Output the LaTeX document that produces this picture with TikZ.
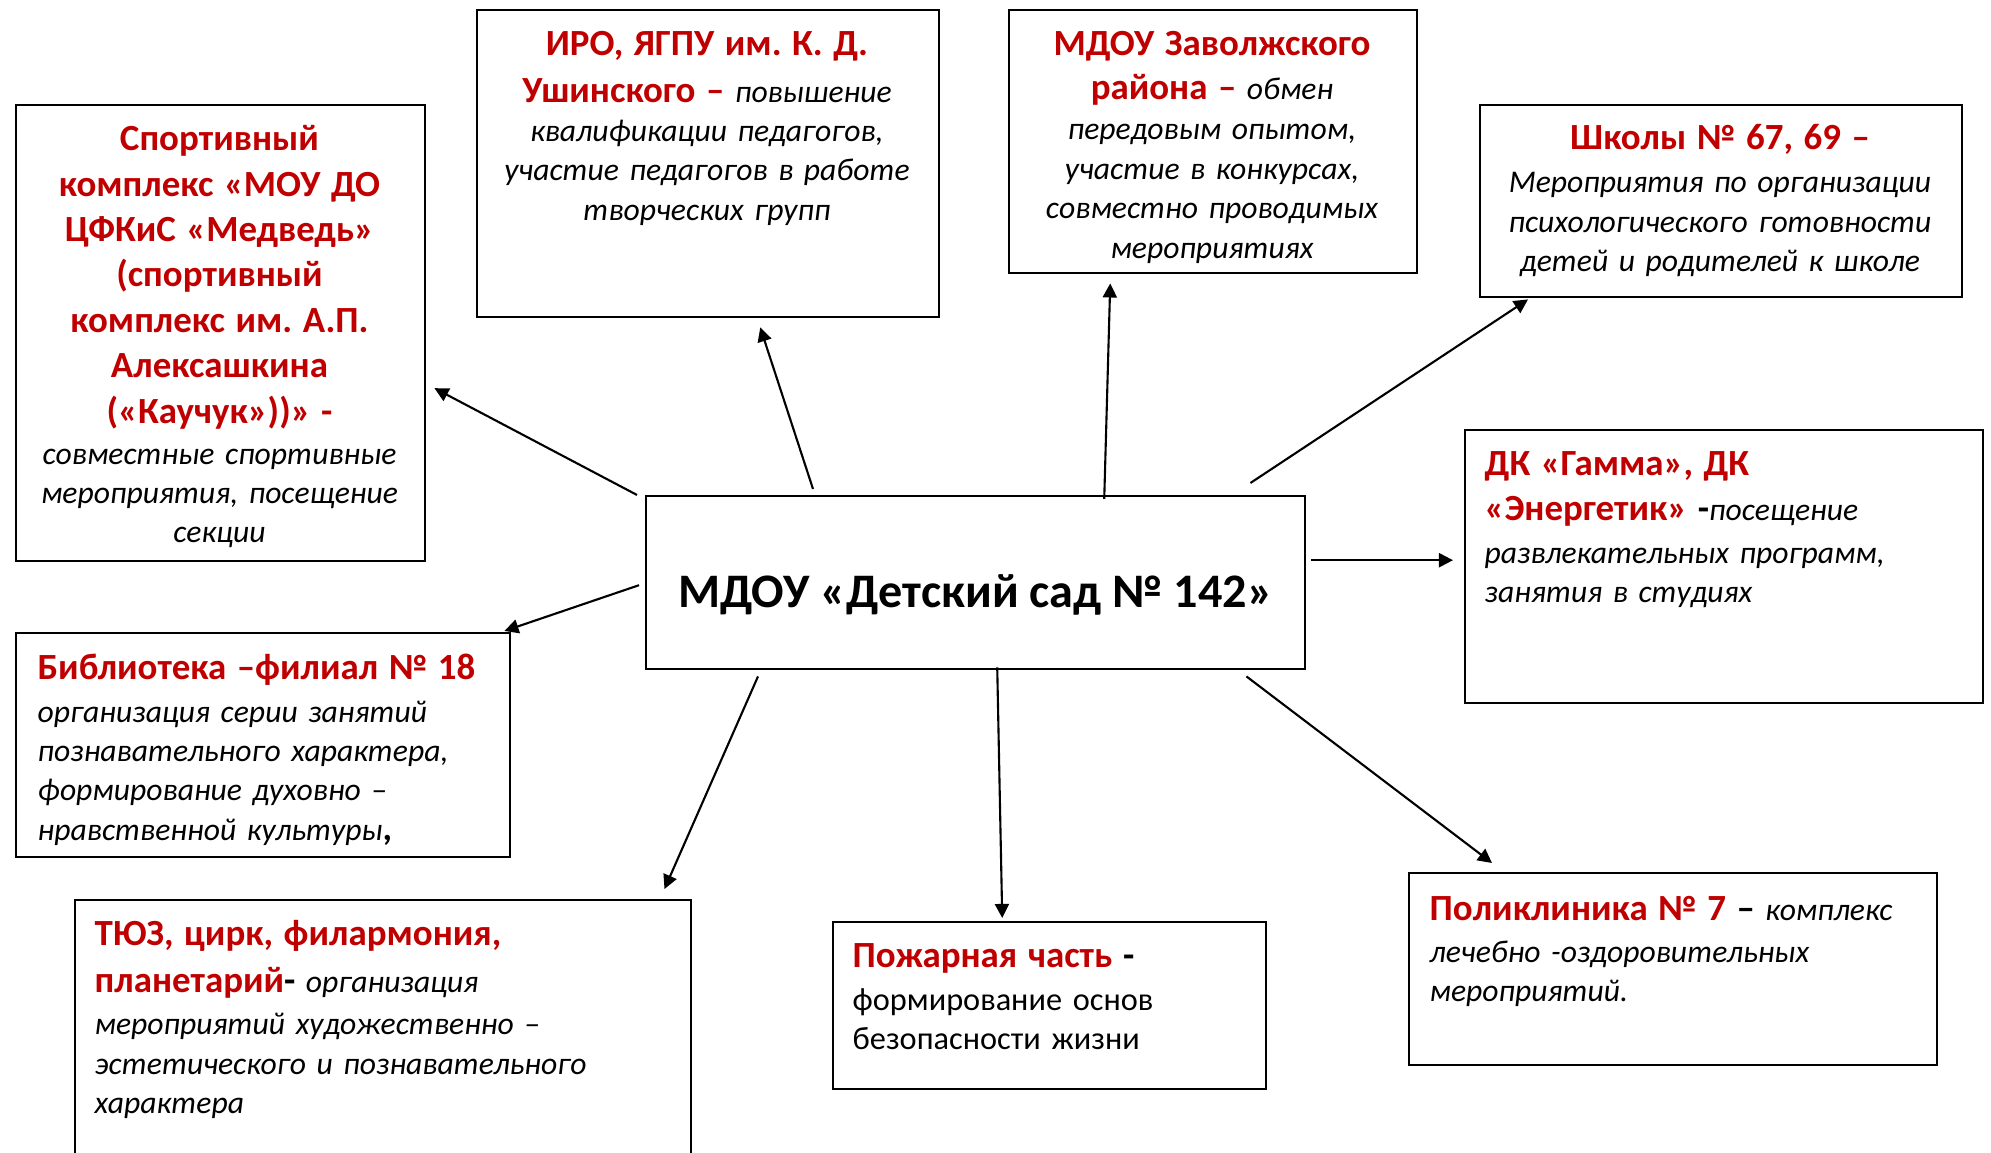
\documentclass[tikz,border=0pt]{standalone}
\usepackage{fontspec}
\setmainfont{Carlito}
\usetikzlibrary{arrows.meta}
\frenchspacing

\definecolor{OrgColor}{RGB}{192,0,0}
\newcommand{\org}[1]{{\color{OrgColor}\upshape\bfseries\fontsize{10.5}{12.9}\selectfont #1}}
\newcommand{\bd}[1]{{\upshape\bfseries\fontsize{10.5}{12.9}\selectfont #1}}

\tikzset{
	panel/.style={draw, line width=0.7pt, inner sep=0pt, anchor=north west},
	blurb/.style={inner sep=0pt, anchor=base, align=center, font=\fontsize{9.0}{11.2}\selectfont\itshape},
	blurbleft/.style={blurb, anchor=base west, align=left},
	link/.style={-{Triangle[length=4pt,width=4pt]}, line width=0.6pt}
}

\begin{document}
\begin{tikzpicture}
	\path[use as bounding box] (0,0) rectangle (19.91,11.53);
	\clip (0,0) rectangle (19.91,11.53);

	\node[panel, minimum width=6.59cm, minimum height=1.73cm, text height=15.9pt, text depth=2pt, font=\fontsize{13.7}{16}\selectfont\bfseries] (hub) at (6.45,6.58) {МДОУ «Детский сад № 142»};

	\node[panel, minimum width=4.09cm, minimum height=4.56cm] (sport) at (0.15,10.49) {};
	\node[panel, minimum width=4.62cm, minimum height=3.07cm] (iro) at (4.76,11.44) {};
	\node[panel, minimum width=4.08cm, minimum height=2.63cm] (zav) at (10.08,11.44) {};
	\node[panel, minimum width=4.82cm, minimum height=1.92cm] (school) at (14.79,10.49) {};
	\node[panel, minimum width=5.18cm, minimum height=2.73cm] (dk) at (14.64,7.24) {};
	\node[panel, minimum width=4.94cm, minimum height=2.24cm] (lib) at (0.15,5.21) {};
	\node[panel, minimum width=6.16cm, minimum height=2.80cm] (tyuz) at (0.74,2.54) {};
	\node[panel, minimum width=4.33cm, minimum height=1.67cm] (fire) at (8.32,2.32) {};
	\node[panel, minimum width=5.28cm, minimum height=1.92cm] (poly) at (14.08,2.81) {};

	\node[blurb, text width=3.9cm] (sporttxt) at (2.195,10.02) {\org{Спортивный}\\[1.7pt] \org{комплекс «МОУ ДО}\\[1.7pt] \org{ЦФКиС «Медведь»}\\[1.7pt] \org{(спортивный}\\[1.7pt] \org{комплекс им. А.П.}\\[1.7pt] \org{Алексашкина}\\[1.7pt] \org{(«Каучук»))» -}\\[0.5pt] совместные спортивные\\ мероприятия, посещение\\ секции};
	\node[blurb, text width=4.4cm] (irotxt) at (7.07,10.97) {\org{ИРО, ЯГПУ им. К. Д.}\\[1.9pt] \org{Ушинского –} повышение\\ квалификации педагогов,\\ участие педагогов в работе\\ творческих групп};
	\node[blurb, text width=3.9cm] (zavtxt) at (12.12,10.97) {\org{МДОУ Заволжского}\\[1.3pt] \org{района –} обмен\\[0.2pt] передовым опытом,\\ участие в конкурсах,\\ совместно проводимых\\ мероприятиях};
	\node[blurb, text width=4.6cm] (schooltxt) at (17.20,10.03) {\org{Школы № 67, 69 –}\\[1pt] Мероприятия по организации\\ психологического готовности\\ детей и родителей к школе};
	\node[blurbleft, text width=4.9cm] (dktxt) at (14.84,6.77) {\org{ДК «Гамма», ДК}\\[1.6pt] \org{«Энергетик»} \bd{-}посещение\\[0.8pt] развлекательных программ,\\ занятия в студиях};
	\node[blurbleft, text width=4.6cm] (libtxt) at (0.37,4.73) {\org{Библиотека –филиал № 18}\\[0.8pt] организация серии занятий\\ познавательного характера,\\ формирование духовно –\\ нравственной культуры\bd{,}};
	\node[blurbleft, text width=5.8cm] (tyuztxt) at (0.94,2.07) {\org{ТЮЗ, цирк, филармония,}\\[1.9pt] \org{планетарий}\bd{-} организация\\[1pt] мероприятий художественно –\\ эстетического и познавательного\\ характера};
	\node[blurbleft, text width=4.0cm, font=\fontsize{9.2}{11.2}\selectfont] (firetxt) at (8.52,1.85) {\org{Пожарная часть} \bd{-}\\[0.8pt] формирование основ\\ безопасности жизни};
	\node[blurbleft, text width=5.0cm] (polytxt) at (14.29,2.32) {\org{Поликлиника № 7} \bd{–} комплекс\\[0.5pt] лечебно -оздоровительных\\ мероприятий.};

	\draw[link] ([shift={(-0.08,0)}]hub.north west) -- ([shift={(0.08,-0.55)}]sport.east);
	\draw[link] ([shift={(1.68,0.06)}]hub.north west) -- ([shift={(0.52,-0.09)}]iro.south);
	\draw[link] ([shift={(1.285,-0.04)}]hub.north) -- ([shift={(-1.03,-0.09)}]zav.south);
	\draw[link] ([shift={(-0.56,0.12)}]hub.north east) -- ([shift={(0.49,-0.01)}]school.south west);
	\draw[link] ([shift={(0.05,0.225)}]hub.east) -- ([shift={(-0.11,0.065)}]dk.west);
	\draw[link] ([shift={(-0.6,-0.06)}]hub.south east) -- ([shift={(0.84,0.09)}]poly.north west);
	\draw[link] ([shift={(0.215,0.03)}]hub.south) -- ([shift={(-0.475,0.03)}]fire.north);
	\draw[link] ([shift={(1.13,-0.06)}]hub.south west) -- ([shift={(-0.28,0.10)}]tyuz.north east);
	\draw[link] ([shift={(-0.06,-0.025)}]hub.west) -- ([shift={(-0.07,0.01)}]lib.north east);
\end{tikzpicture}
\end{document}
